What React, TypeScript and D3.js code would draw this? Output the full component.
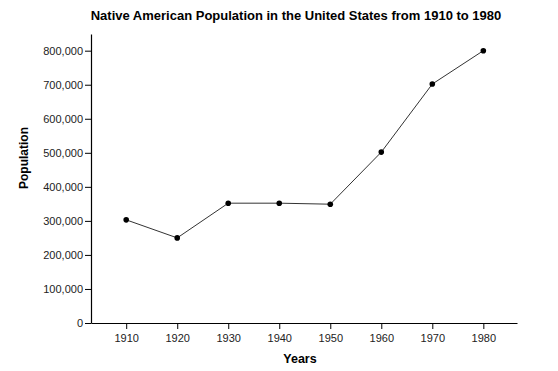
import React, { useRef, useEffect } from 'react';
import * as d3 from 'd3';

const years = [1910, 1920, 1930, 1940, 1950, 1960, 1970, 1980];
const population = [303000, 250000, 352000, 352000, 349000, 502000, 702000, 800000];
const yTicks = [0, 100000, 200000, 300000, 400000, 500000, 600000, 700000, 800000];

const width = 558;
const height = 371;
const margin = { top: 34, right: 41, bottom: 48, left: 91 };

const App = () => {
  const ref = useRef<SVGSVGElement | null>(null);

  useEffect(() => {
    if (!ref.current) return;
    const svg = d3.select(ref.current);
    svg.selectAll('*').remove();

    const x = d3.scaleLinear()
      .domain([1903.1, 1986.6])
      .range([margin.left, width - margin.right]);

    const y = d3.scaleLinear()
      .domain([0, 849000])
      .range([height - margin.bottom, margin.top]);

    const font = 'Liberation Sans, Arial, Helvetica, sans-serif';

    const xAxis = svg.append('g')
      .attr('transform', `translate(0, ${y(0)})`)
      .call(d3.axisBottom(x).tickValues(years).tickFormat(d3.format('d')).tickSize(6).tickPadding(5).tickSizeOuter(0));
    xAxis.select('.domain').attr('stroke-width', 1.2);
    xAxis.selectAll('text').attr('font-size', 11).attr('font-family', font).attr('fill', '#222');

    const yAxis = svg.append('g')
      .attr('transform', `translate(${margin.left}, 0)`)
      .call(d3.axisLeft(y).tickValues(yTicks).tickFormat(d3.format(',')).tickSize(6).tickPadding(2).tickSizeOuter(0));
    yAxis.select('.domain').attr('stroke-width', 1.2);
    yAxis.selectAll('text').attr('font-size', 11).attr('font-family', font).attr('fill', '#222');

    const points = years.map((yr, i) => ({ yr, v: population[i] }));

    const line = d3.line<{ yr: number; v: number }>()
      .x(d => x(d.yr))
      .y(d => y(d.v));

    svg.append('path')
      .datum(points)
      .attr('d', line)
      .attr('fill', 'none')
      .attr('stroke', '#333')
      .attr('stroke-width', 1);

    svg.selectAll('circle')
      .data(points)
      .enter()
      .append('circle')
      .attr('cx', d => x(d.yr))
      .attr('cy', d => y(d.v))
      .attr('r', 2.8)
      .attr('fill', '#000');

    svg.append('text')
      .attr('x', 296)
      .attr('y', 20)
      .attr('text-anchor', 'middle')
      .attr('font-size', 13)
      .attr('font-weight', 'bold')
      .attr('font-family', font)
      .text('Native American Population in the United States from 1910 to 1980');

    svg.append('text')
      .attr('x', 300)
      .attr('y', 363)
      .attr('text-anchor', 'middle')
      .attr('font-size', 12.5)
      .attr('font-weight', 'bold')
      .attr('font-family', font)
      .text('Years');

    svg.append('text')
      .attr('transform', `translate(28, 158) rotate(-90)`)
      .attr('text-anchor', 'middle')
      .attr('font-size', 12)
      .attr('font-weight', 'bold')
      .attr('font-family', font)
      .text('Population');
  }, []);

  return (
    <svg ref={ref} width={width} height={height} style={{ position: 'absolute', left: 0, top: 0 }}></svg>
  );
};

export default App;
